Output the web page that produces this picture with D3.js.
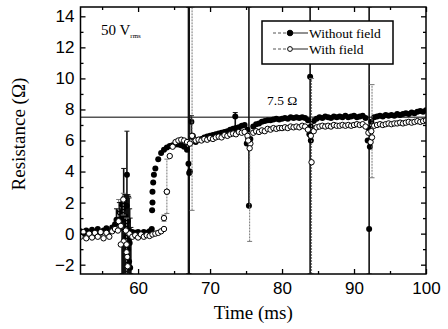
<!DOCTYPE html>
<html>
<head>
<meta charset="utf-8">
<script src="https://cdn.jsdelivr.net/npm/d3@7"></script>
<style>
  body { margin: 0; background: #fff; }
  svg { display: block; }
</style>
</head>
<body>
<svg id="chart" width="448" height="329"></svg>
<script>
// sampling times (ms), shared by both traces
const timeMs = [
  52.0, 52.4, 52.8, 53.2, 53.6, 54.0, 54.4, 54.8, 55.2, 55.6,
  56.0, 56.4, 56.8, 57.2, 57.6, 58.0, 58.4, 58.8, 59.2, 59.6,
  60.0, 60.4, 60.8, 61.2, 61.6, 62.0, 62.4, 62.8, 63.2, 63.6,
  64.0, 64.4, 64.8, 65.2, 65.6, 66.0, 66.4, 66.8, 67.2, 67.6,
  68.0, 68.4, 68.8, 69.2, 69.6, 70.0, 70.4, 70.8, 71.2, 71.6,
  72.0, 72.4, 72.8, 73.2, 73.6, 74.0, 74.4, 74.8, 75.2, 75.6,
  76.0, 76.4, 76.8, 77.2, 77.6, 78.0, 78.4, 78.8, 79.2, 79.6,
  80.0, 80.4, 80.8, 81.2, 81.6, 82.0, 82.4, 82.8, 83.2, 83.6,
  84.0, 84.4, 84.8, 85.2, 85.6, 86.0, 86.4, 86.8, 87.2, 87.6,
  88.0, 88.4, 88.8, 89.2, 89.6, 90.0, 90.4, 90.8, 91.2, 91.6,
  92.0, 92.4, 92.8, 93.2, 93.6, 94.0, 94.4, 94.8, 95.2, 95.6,
  96.0, 96.4, 96.8, 97.2, 97.6, 98.0, 98.4, 98.8, 99.2, 99.6,
  100.0
];

// resistance (ohm), without field (filled symbols)
const withoutField = [
  0.15, 0.0, 0.2, 0.05, 0.25, 0.1, 0.3, 0.05, 0.2, 0.35,
  0.15, 0.4, 0.6, 0.9, 1.2, 2.2, 1.8, -0.3, 0.1, 0.05,
  0.1, 0.0, 0.1, 0.05, 0.15, 2.0, 4.2, 4.8, 5.2, 5.4,
  5.55, 5.65, 5.7, 5.75, 5.75, 5.7, 5.6, 5.4, 4.0, 6.2,
  5.9, 6.05, 6.1, 6.2, 6.25, 6.3, 6.35, 6.4, 6.45, 6.5,
  6.55, 6.6, 6.7, 6.75, 6.8, 6.85, 6.95, 7.0, 6.7, 6.1,
  6.9, 7.05, 7.1, 7.2, 7.25, 7.3, 7.3, 7.35, 7.4, 7.35,
  7.4, 7.45, 7.4, 7.5, 7.45, 7.5, 7.45, 7.5, 7.45, 7.3,
  6.9, 7.25, 7.4, 7.5, 7.45, 7.55, 7.5, 7.45, 7.55, 7.5,
  7.55, 7.5, 7.6, 7.5, 7.55, 7.6, 7.5, 7.55, 7.6, 7.45,
  6.8, 7.2, 7.5, 7.55, 7.6, 7.55, 7.65, 7.6, 7.65, 7.6,
  7.7, 7.65, 7.7, 7.75, 7.7, 7.8, 7.75, 7.85, 7.9, 7.85,
  7.95
];

// resistance (ohm), with field (open symbols)
const withField = [
  -0.2, 0.1, -0.3, 0.0, -0.25, 0.05, -0.2, 0.1, -0.3, 0.05,
  -0.2, 0.15, 0.3, 0.2, 0.5, -0.5, -1.2, 0.0, -0.2, -0.1,
  -0.25, -0.05, -0.2, -0.1, -0.15, -0.05, 0.0, 0.05, 0.15, 0.3,
  2.7, 5.0, 5.6, 5.9, 6.0, 6.05, 6.0, 5.9, 5.8, 6.3,
  6.0, 6.05, 6.0, 6.1, 6.05, 6.15, 6.1, 6.2, 6.25, 6.2,
  6.35, 6.3, 6.4, 6.45, 6.4, 6.55, 6.5, 6.55, 6.3, 5.8,
  6.5, 6.6, 6.55, 6.65, 6.6, 6.75, 6.7, 6.8, 6.75, 6.8,
  6.8, 6.85, 6.8, 6.9, 6.85, 6.9, 6.85, 6.95, 6.9, 6.7,
  6.3, 6.6, 6.85, 6.9, 6.95, 6.9, 6.95, 6.9, 7.0, 6.95,
  6.95, 7.0, 6.95, 7.0, 6.95, 7.0, 7.05, 7.0, 7.05, 6.9,
  6.5, 6.6, 6.95, 7.0, 7.05, 7.0, 7.05, 7.1, 7.05, 7.1,
  7.1, 7.15, 7.1, 7.15, 7.2, 7.15, 7.2, 7.25, 7.2, 7.25,
  7.3
];

// extra points with error bars (lo / hi bounds), without field
const withoutExtraT  = [57.0, 57.4, 57.7, 57.78, 57.85, 57.93, 58.0, 58.08, 58.15, 58.23, 58.3, 58.38, 58.45, 58.53, 58.6, 58.68, 58.75, 58.83, 58.9, 59.0, 61.9, 61.95, 62.0, 62.1, 62.2, 67.0, 67.1, 67.4, 73.5, 75.1, 75.3, 75.4, 83.8, 83.9, 84.0, 91.9, 92.1, 92.2];
const withoutExtraR  = [0.9, 1.4, 1.9, 1.2, 0.9, 1.6, 2.1, 0.4, -0.5, 1.1, 0.5, -0.2, 3.8, 0.8, -1.0, 0.2, -1.8, -0.6, -2.2, 0.0, 0.3, 1.5, 2.7, 3.3, 3.8, 4.5, 3.9, 7.2, 7.55, 5.8, 6.1, 1.8, 6.4, 10.1, 6.0, 6.0, 0.3, 5.6];
const withoutExtraLo = [0.3, 0.5, 0.2, -2.6, -2.6, -2.6, -2.6, -2.6, -2.6, -2.6, -2.6, -2.6, -2.6, -2.6, -2.6, -2.6, -2.6, -2.6, -2.6, -2.6, 0.3, 1.5, 2.7, 3.3, 3.8, -2.6, -2.6, 6.2, 6.9, 5.8, 6.1, 1.8, 6.4, -2.6, 6.0, 6.0, -2.6, 5.6];
const withoutExtraHi = [1.6, 2.0, 1.5, 1.8, 2.0, 2.2, 4.2, 2.4, 2.5, 2.5, 2.4, 2.5, 6.6, 2.5, 2.5, 2.4, 2.3, 1.6, 1.0, 0.4, 0.3, 1.5, 2.7, 3.3, 3.8, 14.6, 14.6, 7.6, 7.8, 5.8, 6.1, 14.6, 6.4, 14.6, 6.0, 6.0, 14.6, 5.6];

// extra points with error bars, with field
const withExtraT  = [57.3, 57.6, 57.95, 58.3, 58.4, 58.5, 58.55, 63.6, 64.0, 67.5, 75.3, 75.5, 84.1, 92.3, 92.5];
const withExtraR  = [0.8, -0.7, 2.2, 0.2, -0.7, -1.5, -2.1, 1.0, 2.7, 6.3, 6.0, 5.5, 4.6, 5.9, 6.2];
const withExtraLo = [0.3, -0.7, 1.2, 0.2, -2.6, -1.5, -2.1, 0.8, 1.3, 1.5, 6.0, -0.5, -2.6, 5.9, 3.6];
const withExtraHi = [2.2, -0.7, 2.6, 0.2, 1.0, -1.5, -2.1, 1.2, 4.8, 14.6, 6.0, 6.5, 10.0, 5.9, 9.6];

const xTicks = [60, 70, 80, 90, 100];
const xMinorTicks = [55, 65, 75, 85, 95];
const yTicks = [-2, 0, 2, 4, 6, 8, 10, 12, 14];
const yMinorTicks = [-1, 1, 3, 5, 7, 9, 11, 13];
const refLevel = 7.5;
const seriesNames = ['Without field', 'With field'];

const plot = { left: 80.5, right: 426, top: 7, bottom: 274 };
const tickFont = '"Liberation Sans", Arial, sans-serif';
const serifFont = '"Liberation Serif", "Times New Roman", serif';

const svg = d3.select('#chart');

const x = d3.scaleLinear().domain([52, 100]).range([plot.left, plot.right]);
const y = d3.scaleLinear().domain([-2.6, 14.6]).range([plot.bottom, plot.top]);

svg.append('defs').append('clipPath').attr('id', 'clip')
  .append('rect')
  .attr('x', plot.left).attr('y', plot.top)
  .attr('width', plot.right - plot.left).attr('height', plot.bottom - plot.top);

// 7.5 ohm reference line
svg.append('line')
  .attr('x1', plot.left).attr('x2', plot.right)
  .attr('y1', y(refLevel)).attr('y2', y(refLevel))
  .attr('stroke', '#555').attr('stroke-width', 1.4);

const toPoints = (ts, rs, los, his) => ts.map((t, i) => ({
  t, r: rs[i],
  lo: los ? los[i] : rs[i],
  hi: his ? his[i] : rs[i]
}));

const filledPts = toPoints(timeMs, withoutField);
const openPts = toPoints(timeMs, withField);
const filledExtra = toPoints(withoutExtraT, withoutExtraR, withoutExtraLo, withoutExtraHi);
const openExtra = toPoints(withExtraT, withExtraR, withExtraLo, withExtraHi);

const data = svg.append('g').attr('clip-path', 'url(#clip)');

function errorBars(g, pts, color, w, dash) {
  const bars = pts.filter(d => d.hi > d.lo);
  g.selectAll(null).data(bars).join('line')
    .attr('x1', d => x(d.t)).attr('x2', d => x(d.t))
    .attr('y1', d => y(d.lo)).attr('y2', d => y(d.hi))
    .attr('stroke', color).attr('stroke-width', w)
    .attr('stroke-dasharray', dash);
  const caps = bars.flatMap(d => [d.lo, d.hi].map(v => ({ t: d.t, v })));
  g.selectAll(null).data(caps).join('line')
    .attr('x1', d => x(d.t) - 2.5).attr('x2', d => x(d.t) + 2.5)
    .attr('y1', d => y(d.v)).attr('y2', d => y(d.v))
    .attr('stroke', color).attr('stroke-width', 1);
}

// without field: black error bars + filled circles
const gFilled = data.append('g');
errorBars(gFilled, filledExtra, '#111', 1.6, null);
gFilled.selectAll('circle').data(filledPts.concat(filledExtra)).join('circle')
  .attr('cx', d => x(d.t)).attr('cy', d => y(d.r)).attr('r', 3)
  .attr('fill', '#000');

// with field: grey error bars + open circles
const gOpen = data.append('g');
errorBars(gOpen, openExtra, '#777', 1, '2,1');
gOpen.selectAll('circle').data(openPts.concat(openExtra)).join('circle')
  .attr('cx', d => x(d.t)).attr('cy', d => y(d.r)).attr('r', 2.7)
  .attr('fill', '#fff').attr('stroke', '#000').attr('stroke-width', 1);

// axes, ticks pointing inward on all four sides
function styleAxis(g) {
  g.select('.domain').remove();
  g.selectAll('line').attr('stroke', '#000').attr('stroke-width', 1.3);
  g.selectAll('text').attr('fill', '#000')
    .style('font-family', tickFont).style('font-size', '17px');
}

svg.append('g').attr('transform', `translate(0,${plot.bottom})`)
  .call(d3.axisBottom(x).tickValues(xTicks).tickSize(-5).tickPadding(8).tickFormat(d3.format('d')))
  .call(styleAxis);
svg.append('g').attr('transform', `translate(0,${plot.bottom})`)
  .call(d3.axisBottom(x).tickValues(xMinorTicks).tickSize(-3).tickFormat(''))
  .call(styleAxis);
svg.append('g').attr('transform', `translate(0,${plot.top})`)
  .call(d3.axisTop(x).tickValues(xTicks).tickSize(-5).tickFormat(''))
  .call(styleAxis);
svg.append('g').attr('transform', `translate(0,${plot.top})`)
  .call(d3.axisTop(x).tickValues(xMinorTicks).tickSize(-3).tickFormat(''))
  .call(styleAxis);

svg.append('g').attr('transform', `translate(${plot.left},0)`)
  .call(d3.axisLeft(y).tickValues(yTicks).tickSize(-5).tickPadding(6).tickFormat(d3.format('d')))
  .call(styleAxis);
svg.append('g').attr('transform', `translate(${plot.left},0)`)
  .call(d3.axisLeft(y).tickValues(yMinorTicks).tickSize(-3).tickFormat(''))
  .call(styleAxis);
svg.append('g').attr('transform', `translate(${plot.right},0)`)
  .call(d3.axisRight(y).tickValues(yTicks).tickSize(-5).tickFormat(''))
  .call(styleAxis);
svg.append('g').attr('transform', `translate(${plot.right},0)`)
  .call(d3.axisRight(y).tickValues(yMinorTicks).tickSize(-3).tickFormat(''))
  .call(styleAxis);

// frame
svg.append('rect')
  .attr('x', plot.left).attr('y', plot.top)
  .attr('width', plot.right - plot.left).attr('height', plot.bottom - plot.top)
  .attr('fill', 'none').attr('stroke', '#000').attr('stroke-width', 1.5);

// axis titles
svg.append('text')
  .attr('x', (plot.left + plot.right) / 2).attr('y', 319)
  .attr('text-anchor', 'middle')
  .style('font-family', serifFont).style('font-size', '19px')
  .text('Time (ms)');

svg.append('text')
  .attr('transform', 'translate(25,134) rotate(-90)')
  .attr('text-anchor', 'middle')
  .style('font-family', serifFont).style('font-size', '19px')
  .text('Resistance (Ω)');

// annotations
const vLabel = svg.append('text')
  .attr('x', 101).attr('y', 35)
  .style('font-family', serifFont).style('font-size', '15px');
vLabel.append('tspan').text('50 V');
vLabel.append('tspan').attr('dy', 3).style('font-size', '7px').text('rms');

svg.append('text')
  .attr('x', 267).attr('y', 105)
  .style('font-family', serifFont).style('font-size', '13.5px')
  .text('7.5 Ω');

// legend
const legend = svg.append('g');
legend.append('rect')
  .attr('x', 262).attr('y', 21).attr('width', 131).attr('height', 43)
  .attr('fill', '#fff').attr('stroke', '#000').attr('stroke-width', 1.5);

const legendRows = legend.selectAll('g.row').data(seriesNames).join('g')
  .attr('class', 'row')
  .attr('transform', (d, i) => `translate(0,${33 + i * 16})`);
legendRows.append('line')
  .attr('x1', 273).attr('x2', 286).attr('y1', 0).attr('y2', 0)
  .attr('stroke', '#555').attr('stroke-width', 1).attr('stroke-dasharray', '3,2');
legendRows.append('line')
  .attr('x1', 293).attr('x2', 308).attr('y1', 0).attr('y2', 0)
  .attr('stroke', '#222').attr('stroke-width', 1);
legendRows.append('circle')
  .attr('cx', 290).attr('cy', 0).attr('r', (d, i) => i === 0 ? 2.8 : 2.4)
  .attr('fill', (d, i) => i === 0 ? '#000' : '#fff')
  .attr('stroke', '#000').attr('stroke-width', 1);
legendRows.append('text')
  .attr('x', 309).attr('y', 4.5)
  .style('font-family', serifFont).style('font-size', '13.5px')
  .text(d => d);
</script>
</body>
</html>
